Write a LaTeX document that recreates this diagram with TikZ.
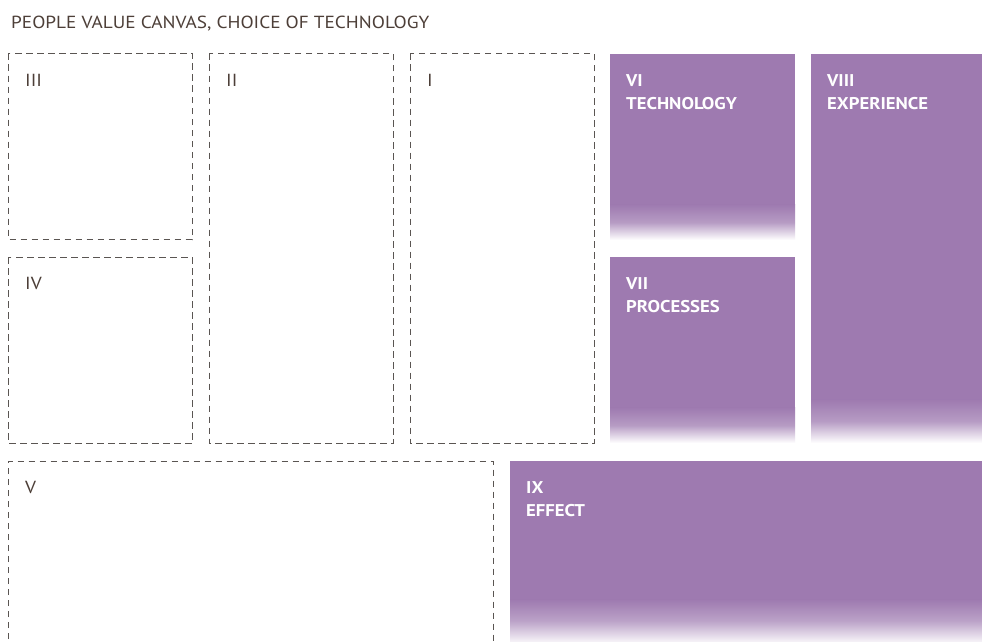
\documentclass[tikz,border=0pt]{standalone}
\usepackage{fontspec}
\setmainfont[FakeStretch=1.1]{PT Sans}
\begin{document}
\begin{tikzpicture}[x=1pt,y=-1pt]
\definecolor{ink}{HTML}{4D3F38}
\definecolor{dashc}{HTML}{5A5552}
\definecolor{plum}{RGB}{158,122,176}
\tikzset{
  dbox/.style={draw=dashc,line width=1pt,dash pattern=on 6.5pt off 4.5pt},
  lbl/.style={anchor=base west,inner sep=0pt,text=ink,font=\fontsize{17.5}{20}\selectfont},
  plbl/.style={anchor=base west,inner sep=0pt,text=white,font=\fontsize{17}{20}\selectfont\bfseries},
}
\useasboundingbox (0,0) rectangle (982,642);
\fill[white] (0,0) rectangle (982,642);
% title
\node[lbl] (title) at (11,29) {PEOPLE VALUE CANVAS, CHOICE OF TECHNOLOGY};
% dashed boxes
\draw[dbox] (8.5,53.5) rectangle (192,239.5);
\draw[dbox] (8.5,257) rectangle (192,443.5);
\draw[dbox] (209,53.5) rectangle (393,443.5);
\draw[dbox] (410,53.5) rectangle (594,443.5);
\draw[dbox] (8.5,650) -- (8.5,461) -- (493,461) -- (493,650);
\node[lbl] (iii) at (25,86) {III};
\node[lbl] (iv) at (25,289) {IV};
\node[lbl] (ii) at (226,86) {II};
\node[lbl] (i) at (427,86) {I};
\node[lbl] (v) at (25,493) {V};
% purple boxes: VI
\fill[plum] (610,54) rectangle (795,205);
\shade[top color=plum,bottom color=white,middle color=plum!75] (610,204.5) rectangle (795,240);
% VII
\fill[plum] (610,257) rectangle (795,408);
\shade[top color=plum,bottom color=white,middle color=plum!75] (610,407.5) rectangle (795,443);
% VIII
\fill[plum] (811,54) rectangle (982,400);
\shade[top color=plum,bottom color=white,middle color=plum!75] (811,399.5) rectangle (982,443);
% IX
\fill[plum] (510,461) rectangle (982,600);
\shade[top color=plum,bottom color=plum!8,middle color=plum!70] (510,599.5) rectangle (982,642);
% purple labels
\node[plbl] (vi) at (626,86) {VI};
\node[plbl] (vit) at (626,109.5) {TECHNOLOGY};
\node[plbl] (vii) at (626,289) {VII};
\node[plbl] (viit) at (626,312.5) {PROCESSES};
\node[plbl] (viii) at (827,86) {VIII};
\node[plbl] (viiit) at (827,109.5) {EXPERIENCE};
\node[plbl] (ix) at (526,493) {IX};
\node[plbl] (ixt) at (526,516.5) {EFFECT};
\end{tikzpicture}
\end{document}
